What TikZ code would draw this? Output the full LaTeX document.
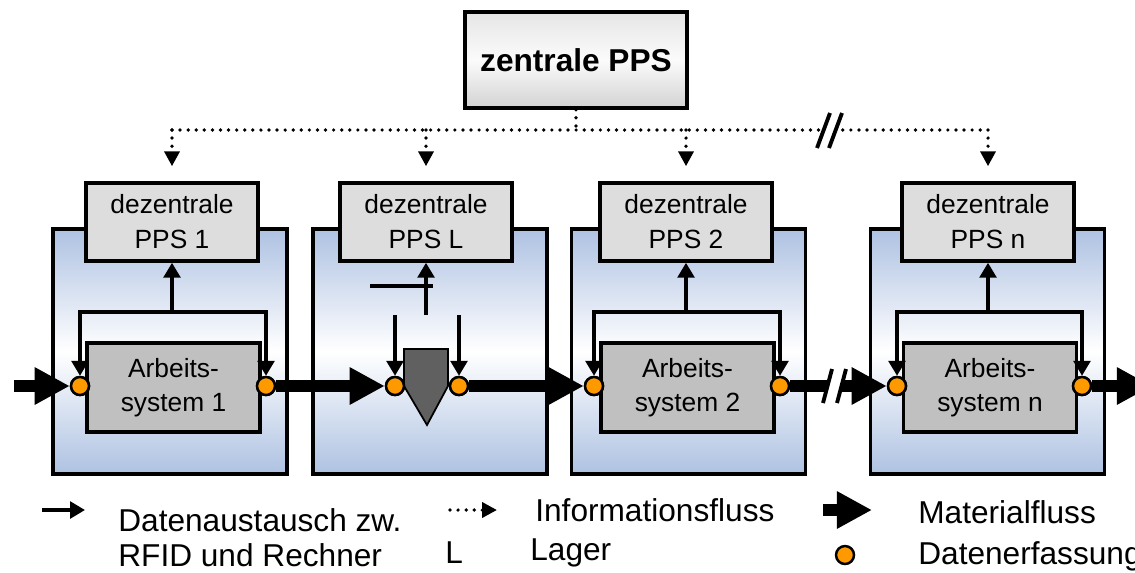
\documentclass[tikz,border=0pt]{standalone}
\usepackage{fontspec}
\setmainfont{Liberation Sans}
\usetikzlibrary{arrows.meta,calc}
\definecolor{panelblue}{RGB}{174,194,226}
\definecolor{boxgray}{HTML}{DDDDDD}
\definecolor{sysgray}{HTML}{C0C0C0}
\definecolor{lagergray}{HTML}{606060}
\definecolor{dataorange}{HTML}{FF9900}
\tikzset{
  panel/.style={draw,line width=2pt,top color=panelblue,bottom color=panelblue,middle color=white,minimum width=4.68cm,minimum height=4.9cm,inner sep=0pt},
  central/.style={draw,line width=2pt,top color=gray!20,bottom color=gray!35,middle color=gray!3,minimum width=4.44cm,minimum height=1.92cm,font=\fontsize{18}{20}\selectfont\bfseries},
  dpps/.style={draw,line width=2pt,fill=boxgray,minimum width=3.44cm,minimum height=1.56cm,align=center,inner sep=0pt,font=\fontsize{15}{20}\selectfont},
  asys/.style={draw,line width=2pt,fill=sysgray,minimum width=3.46cm,minimum height=1.78cm,align=center,inner sep=0pt,font=\fontsize{15}{19}\selectfont},
  dpt/.style={circle,draw,line width=1.4pt,fill=dataorange,minimum size=0.36cm,inner sep=0pt},
  datfl/.style={-{Triangle[length=8.5pt,width=9.5pt]},line width=2pt},
  infl/.style={line width=2.1pt,line cap=round,dash pattern=on 0pt off 4.6pt},
  matfl/.style={-{Triangle[length=20pt,width=20pt]},line width=6.8pt},
  brk/.style={line width=2.2pt},
  lgd/.style={anchor=west,inner sep=0pt,align=left,font=\fontsize{18}{20}\selectfont}
}
\begin{document}
\begin{tikzpicture}[x=0.02cm,y=-0.02cm]
\clip (0,0) rectangle (1135,572);
% Bereiche
\node[panel] (p1) at (170,351.5) {};
\node[panel] (pL) at (430,351.5) {};
\node[panel] (p2) at (688.5,351.5) {};
\node[panel] (pn) at (987.5,351.5) {};
% zentrale und dezentrale PPS
\node[central] (zpps) at (576,60) {zentrale PPS};
\node[dpps] (d1) at (172,222) {dezentrale\\PPS 1};
\node[dpps] (dL) at (426,222) {dezentrale\\PPS L};
\node[dpps] (d2) at (686,222) {dezentrale\\PPS 2};
\node[dpps] (dn) at (988,222) {dezentrale\\PPS n};
% Arbeitssysteme
\node[asys] (a1) at (173.5,387.5) {Arbeits-\\system 1};
\node[asys] (a2) at (687.5,387.5) {Arbeits-\\system 2};
\node[asys] (an) at (990,387.5) {Arbeits-\\system n};
% Lager
\draw[fill=lagergray,line width=1pt] (404,349)--(448,349)--(448,386)--(427,425)--(404,386)--cycle;
% Datenerfassungspunkte
\node[dpt] (in1) at (80,386) {};
\node[dpt] (out1) at (266,386) {};
\node[dpt] (inL) at (395,386) {};
\node[dpt] (outL) at (459,386) {};
\node[dpt] (in2) at (594,386) {};
\node[dpt] (out2) at (780,386) {};
\node[dpt] (inn) at (897,386) {};
\node[dpt] (outn) at (1082,386) {};
% Informationsfluss
\coordinate (bus) at (576,130);
\draw[infl] (zpps.south) -- (bus);
\draw[infl] (d1.north |- bus) -- (dn.north |- bus);
\foreach \d in {d1,dL,d2,dn}
  \draw[infl,-{Triangle[length=8.5pt,width=8.5pt]},shorten >=0.3cm] (\d.north |- bus) -- (\d.north);
\fill[white] (817,148)--(830,113)--(842,113)--(829,148)--cycle;
\draw[brk] (817,148)--(830,113) (829,148)--(842,113);
% Datenaustausch
\foreach \a/\d/\i/\o in {1/d1/in1/out1,2/d2/in2/out2,n/dn/inn/outn}{
  \coordinate (t\a) at (\d.south |- 0,312);
  \draw[datfl] (t\a) -- (\d.south);
  \draw[datfl] (t\a) -| (\i);
  \draw[datfl] (t\a) -| (\o);
}
\coordinate (tL) at (dL.south |- 0,315);
\draw[datfl] (tL) -- (dL.south);
\draw[line width=2pt] (370,286) -- (433,286);
\draw[datfl] (inL |- tL) -- (inL);
\draw[datfl] (outL |- tL) -- (outL);
% Materialfluss
\coordinate (mstart) at (14,386);
\coordinate (mend) at (1152,386);
\draw[matfl] (mstart) -- (in1);
\draw[matfl] (out1) -- (inL);
\draw[matfl] (outL) -- (in2);
\draw[matfl] (out2) -- (inn);
\draw[matfl] (outn) -- (mend);
\fill[white] (823,403)--(832,369)--(846,369)--(837,403)--cycle;
\draw[brk] (823,403)--(832,369) (837,403)--(846,369);
\foreach \p in {in1,out1,inL,outL,in2,out2,inn,outn}
  \node[dpt] at (\p) {};
% Legende
\coordinate (la1) at (42,510);
\coordinate (la2) at (85,510);
\draw[datfl] (la1) -- (la2);
\node[lgd] (lt1) at (118,538) {Datenaustausch zw.\\RFID und Rechner};
\coordinate (lb1) at (450,510);
\coordinate (lb2) at (497,510);
\draw[infl,-{Triangle[length=8.5pt,width=8.5pt]}] (lb1) -- (lb2);
\node[lgd] (lt2) at (535,510) {Informationsfluss};
\node[lgd] (lt3) at (445,553) {L};
\node[lgd] (lt4) at (530,553) {Lager};
\coordinate (lm1) at (823,510);
\coordinate (lm2) at (872,510);
\draw[matfl] (lm1) -- (lm2);
\node[lgd] (lt5) at (918,512) {Materialfluss};
\node[dpt] (lc) at (845,555) {};
\node[lgd] (lt6) at (918,556) {Datenerfassung};
\end{tikzpicture}
\end{document}
